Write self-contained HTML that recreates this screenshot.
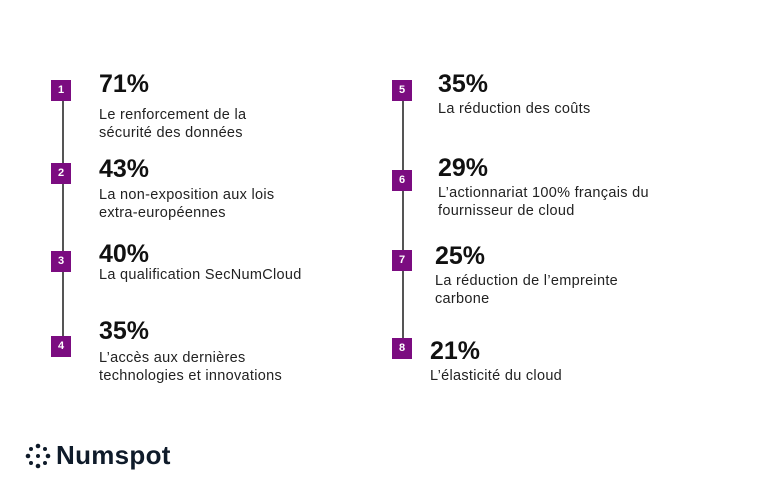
<!DOCTYPE html>
<html><head><meta charset="utf-8"><style>
body{margin:0;width:783px;height:496px;background:#fff;position:relative;overflow:hidden;font-family:"Liberation Sans",sans-serif;color:#1a1a1a}
.b{position:absolute;width:20px;height:21px;background:#7b0c80;color:#fff;font-size:11px;font-weight:bold;text-align:center;line-height:21px}
.l{position:absolute;width:1.5px;background:#555}
.p{position:absolute;font-size:25px;font-weight:bold;line-height:28px;color:#111}
.t{position:absolute;font-size:14.5px;line-height:18px;color:#222;letter-spacing:0.3px}
</style></head><body>
<div class="l" style="left:62px;top:90px;height:258px"></div>
<div class="l" style="left:402px;top:90px;height:260px"></div>
<div class="b" style="left:51px;top:80px">1</div>
<div class="b" style="left:51px;top:163px">2</div>
<div class="b" style="left:51px;top:251px">3</div>
<div class="b" style="left:51px;top:336px">4</div>
<div class="b" style="left:392px;top:80px">5</div>
<div class="b" style="left:392px;top:170px">6</div>
<div class="b" style="left:392px;top:250px">7</div>
<div class="b" style="left:392px;top:338px">8</div>

<div class="p" style="left:99px;top:70px">71%</div>
<div class="t" style="left:99px;top:106px">Le renforcement de la<br>sécurité des données</div>
<div class="p" style="left:99px;top:155px">43%</div>
<div class="t" style="left:99px;top:186px">La non-exposition aux lois<br>extra-européennes</div>
<div class="p" style="left:99px;top:240px">40%</div>
<div class="t" style="left:99px;top:266px">La qualification SecNumCloud</div>
<div class="p" style="left:99px;top:317px">35%</div>
<div class="t" style="left:99px;top:349px">L’accès aux dernières<br>technologies et innovations</div>

<div class="p" style="left:438px;top:70px">35%</div>
<div class="t" style="left:438px;top:100px">La réduction des coûts</div>
<div class="p" style="left:438px;top:154px">29%</div>
<div class="t" style="left:438px;top:184px">L’actionnariat 100% français du<br>fournisseur de cloud</div>
<div class="p" style="left:435px;top:242px">25%</div>
<div class="t" style="left:435px;top:272px">La réduction de l’empreinte<br>carbone</div>
<div class="p" style="left:430px;top:337px">21%</div>
<div class="t" style="left:430px;top:367px">L’élasticité du cloud</div>

<svg style="position:absolute;left:25px;top:443px" width="26" height="26" viewBox="0 0 26 26" fill="#0f1b2a">
<circle cx="13" cy="3" r="2.3"/><circle cx="13" cy="23" r="2.3"/><circle cx="3" cy="13" r="2.3"/><circle cx="23" cy="13" r="2.3"/>
<circle cx="6" cy="6" r="2"/><circle cx="20" cy="6" r="2"/><circle cx="6" cy="20" r="2"/><circle cx="20" cy="20" r="2"/><circle cx="13" cy="13" r="2"/>
</svg>
<div style="position:absolute;left:56px;top:440px;font-size:26px;font-weight:bold;color:#0f1b2a;letter-spacing:0.3px">Numspot</div>
</body></html>
